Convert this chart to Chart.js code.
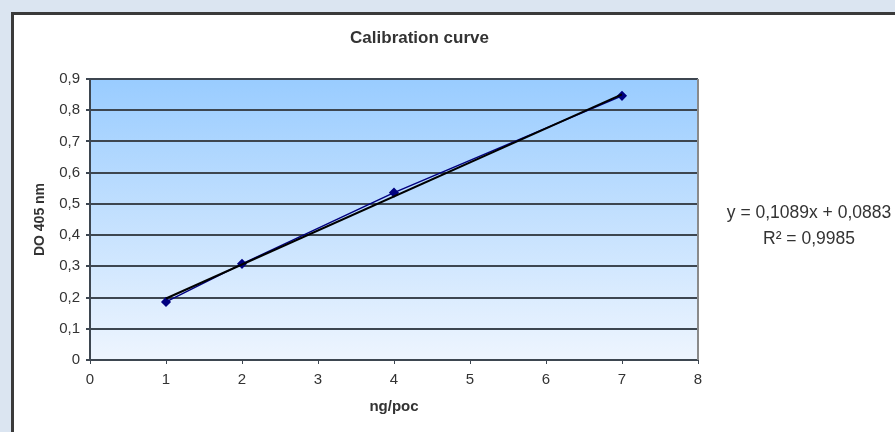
<!DOCTYPE html>
<html>
<head>
<meta charset="utf-8">
<script src="https://cdn.jsdelivr.net/npm/chart.js@4"></script>
<style>
  html, body { margin: 0; padding: 0; }
  body { width: 895px; height: 432px; background: #dbe5f1; overflow: hidden; position: relative; }
  #frame {
    position: absolute; left: 11px; top: 12px;
    width: 881px; height: 417px;
    border-left: 3px solid #3a3a3a; border-top: 3px solid #3a3a3a;
    background: #fff;
  }
  canvas { display: block; }
</style>
</head>
<body>
<div id="frame"><canvas id="chart" width="881" height="417"></canvas></div>
<script>
  const chartTitle = 'Calibration curve';
  const xTitle = 'ng/poc';
  const yTitle = 'DO 405 nm';
  const concentrations = [1, 2, 4, 7];
  const absorbance = [0.186, 0.308, 0.536, 0.846];
  const trendX = [1, 7];
  const trendY = [0.197, 0.851];
  const xTickLabels = ['0', '1', '2', '3', '4', '5', '6', '7', '8'];
  const yTickLabels = ['0', '0,1', '0,2', '0,3', '0,4', '0,5', '0,6', '0,7', '0,8', '0,9'];
  const equationLines = ['y = 0,1089x + 0,0883', 'R\u00B2 = 0,9985'];

  const FONT = '"Liberation Sans", Arial, sans-serif';
  const textColor = '#333333';
  const gridColor = '#3d4650';

  // plot background gradient + right border
  const plotBackground = {
    id: 'plotBackground',
    beforeDraw(chart) {
      const { ctx, chartArea: a } = chart;
      const g = ctx.createLinearGradient(0, a.top, 0, a.bottom);
      g.addColorStop(0, '#99ccff');
      g.addColorStop(1, '#eef5fe');
      ctx.save();
      ctx.fillStyle = g;
      ctx.fillRect(a.left, a.top, a.right - a.left, a.bottom - a.top);
      ctx.restore();
    },
    afterDatasetsDraw(chart) {
      const { ctx, chartArea: a } = chart;
      ctx.save();
      ctx.strokeStyle = '#8a8a8a';
      ctx.lineWidth = 2;
      ctx.beginPath();
      ctx.moveTo(a.right, a.top);
      ctx.lineTo(a.right, a.bottom);
      ctx.stroke();
      ctx.restore();
    }
  };

  // title and trendline equation
  const labels = {
    id: 'labels',
    afterDraw(chart) {
      const { ctx, chartArea: a } = chart;
      ctx.save();
      ctx.fillStyle = textColor;
      ctx.textAlign = 'center';
      ctx.textBaseline = 'middle';
      ctx.font = 'bold 17px ' + FONT;
      ctx.fillText(chartTitle, 405.5, 23);
      ctx.font = '17.5px ' + FONT;
      ctx.fillText(equationLines[0], 795, 198);
      ctx.fillText(equationLines[1], 795, 224);
      ctx.restore();
    }
  };

  const pts = (xs, ys) => xs.map((x, i) => ({ x: x, y: ys[i] }));

  new Chart(document.getElementById('chart'), {
    type: 'scatter',
    data: {
      datasets: [
        {
          label: 'Linear',
          data: pts(trendX, trendY),
          showLine: true,
          borderColor: '#000000',
          borderWidth: 2,
          pointRadius: 0
        },
        {
          label: 'DO',
          data: pts(concentrations, absorbance),
          showLine: true,
          borderColor: '#000080',
          borderWidth: 1.5,
          backgroundColor: '#000080',
          pointStyle: 'rectRot',
          pointRadius: 4,
          pointBorderColor: '#000080',
          pointBackgroundColor: '#000080'
        }
      ]
    },
    options: {
      responsive: false,
      animation: false,
      devicePixelRatio: 1,
      layout: { padding: { top: 64, right: 197, bottom: 0, left: 0 } },
      plugins: {
        legend: { display: false },
        title: { display: false },
        tooltip: { enabled: false }
      },
      scales: {
        x: {
          type: 'linear',
          min: 0,
          max: 8,
          afterFit(scale) { scale.height = 72; },
          ticks: {
            stepSize: 1,
            padding: 7,
            color: textColor,
            font: { family: FONT, size: 15 },
            callback: (v, i) => xTickLabels[i]
          },
          grid: { drawOnChartArea: false, tickLength: 4, color: gridColor, lineWidth: 1 },
          border: { color: gridColor, width: 2 },
          title: {
            display: true,
            text: xTitle,
            color: textColor,
            font: { family: FONT, size: 15, weight: 'bold' },
            padding: { top: 0, bottom: 16 }
          }
        },
        y: {
          min: 0,
          max: 0.9,
          afterFit(scale) { scale.width = 76; },
          ticks: {
            stepSize: 0.1,
            padding: 6,
            color: textColor,
            font: { family: FONT, size: 15 },
            callback: (v, i) => yTickLabels[i]
          },
          grid: { color: gridColor, lineWidth: 2, tickLength: 4 },
          border: { color: gridColor, width: 2 },
          title: {
            display: true,
            text: yTitle,
            color: textColor,
            font: { family: FONT, size: 14, weight: 'bold' },
            padding: { top: 18, bottom: 0 }
          }
        }
      }
    },
    plugins: [plotBackground, labels]
  });
</script>
</body>
</html>
